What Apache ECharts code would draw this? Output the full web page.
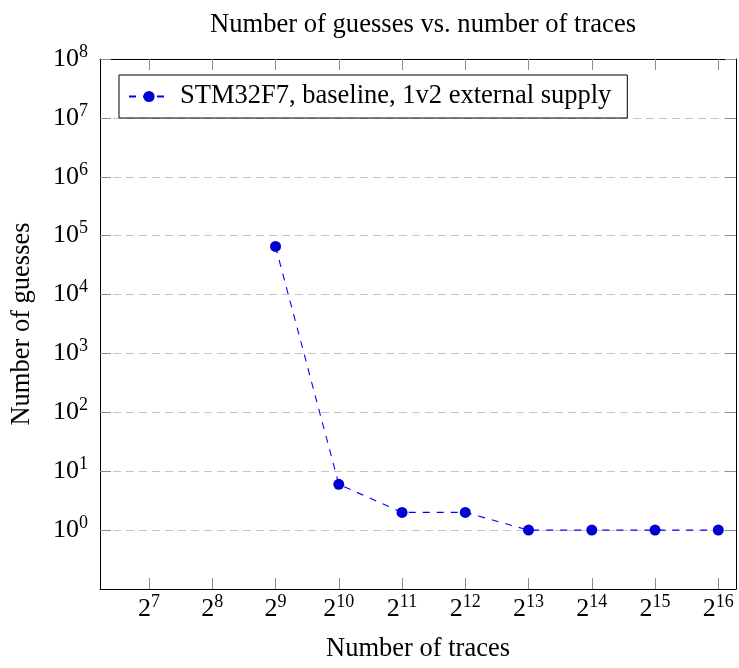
<!DOCTYPE html>
<html>
<head>
<meta charset="utf-8">
<script src="https://cdn.jsdelivr.net/npm/echarts@6/dist/echarts.min.js"></script>
<style>html,body{margin:0;padding:0;background:#fff}#c{width:739px;height:668px}</style>
</head>
<body>
<div id="c"></div>
<script>
// ---- data ----
const traces = [512, 1024, 2048, 4096, 8192, 16384, 32768, 65536];
const guesses = [65536, 6, 2, 2, 1, 1, 1, 1];
const xTickExponents = [7, 8, 9, 10, 11, 12, 13, 14, 15, 16];
const yTickExponents = [0, 1, 2, 3, 4, 5, 6, 7, 8];
const seriesName = 'STM32F7, baseline, 1v2 external supply';
const titleText = 'Number of guesses vs. number of traces';
const xName = 'Number of traces';
const yName = 'Number of guesses';

const xTicks = xTickExponents.map(e => Math.pow(2, e));
const yTicks = yTickExponents.map(e => Math.pow(10, e));
const FONT = '"Liberation Serif", "DejaVu Serif", serif';
const xMin = Math.pow(2, 6.225), xMax = Math.pow(2, 16.28);
const yMin = 0.1, yMax = 1e8;

const rich = {
  b: {fontSize: 26, fontFamily: FONT, color: '#000', verticalAlign: 'bottom', lineHeight: 26},
  s: {fontSize: 18, fontFamily: FONT, color: '#000', verticalAlign: 'bottom', lineHeight: 18, padding: [0, 0, 11, 0]}
};
const tickStyle = {show: true, inside: true, length: 11, lineStyle: {color: '#8c8c8c', width: 1}};
const lineStyleAxis = {show: true, lineStyle: {color: '#000', width: 1}};

const chart = echarts.init(document.getElementById('c'), null, {renderer: 'canvas'});
chart.setOption({
  animation: false,
  backgroundColor: '#fff',
  title: {
    text: titleText, left: 418, top: 7, textAlign: 'center',
    textStyle: {fontFamily: FONT, fontSize: 26.6, fontWeight: 'normal', color: '#000'}
  },
  grid: {left: 100, top: 59, right: 3, bottom: 77, containLabel: false},
  legend: {
    left: 119, top: 75,
    orient: 'vertical',
    padding: [8, 16, 8, 9],
    borderColor: '#000', borderWidth: 1,
    itemWidth: 40, itemHeight: 14, itemGap: 11,
    textStyle: {fontFamily: FONT, fontSize: 26.5, color: '#000', padding: [0, 0, 0, 6]},
    data: [seriesName]
  },
  xAxis: [{
    type: 'log', logBase: 2, min: xMin, max: xMax,
    name: xName, nameLocation: 'middle', nameGap: 47,
    nameTextStyle: {fontFamily: FONT, fontSize: 26.5, color: '#000'},
    axisLine: lineStyleAxis,
    axisTick: Object.assign({customValues: xTicks}, tickStyle),
    axisLabel: {
      customValues: xTicks, margin: 7,
      formatter: v => '{b|2}{s|' + Math.round(Math.log2(v)) + '}', rich: rich
    },
    splitLine: {show: false}, minorTick: {show: false}
  }, {
    type: 'log', logBase: 2, min: xMin, max: xMax, position: 'top',
    axisLine: lineStyleAxis,
    axisTick: Object.assign({customValues: xTicks}, tickStyle),
    axisLabel: {show: false}, splitLine: {show: false}
  }],
  yAxis: [{
    type: 'log', logBase: 10, min: yMin, max: yMax, interval: 1,
    name: yName, nameLocation: 'middle', nameGap: 64, nameRotate: 90,
    nameTextStyle: {fontFamily: FONT, fontSize: 26.5, color: '#000'},
    axisLine: lineStyleAxis,
    axisTick: Object.assign({customValues: yTicks}, tickStyle),
    axisLabel: {
      customValues: yTicks, margin: 12,
      formatter: v => '{b|10}{s|' + Math.round(Math.log10(v)) + '}', rich: rich
    },
    splitLine: {show: true, lineStyle: {color: '#c4c4c4', width: 1, type: [8, 5]}},
    minorTick: {show: false}
  }, {
    type: 'log', logBase: 10, min: yMin, max: yMax, interval: 1, position: 'right',
    axisLine: lineStyleAxis,
    axisTick: Object.assign({customValues: yTicks}, tickStyle),
    axisLabel: {show: false}, splitLine: {show: false}
  }],
  series: [{
    name: seriesName,
    type: 'line',
    xAxisIndex: 0, yAxisIndex: 0,
    data: traces.map((t, i) => [t, guesses[i]]),
    symbol: 'circle', symbolSize: 11,
    itemStyle: {color: '#0000d0'},
    lineStyle: {color: '#0000ff', width: 1.1, type: [7, 7]},
    z: 5
  }]
});
</script>
</body>
</html>
